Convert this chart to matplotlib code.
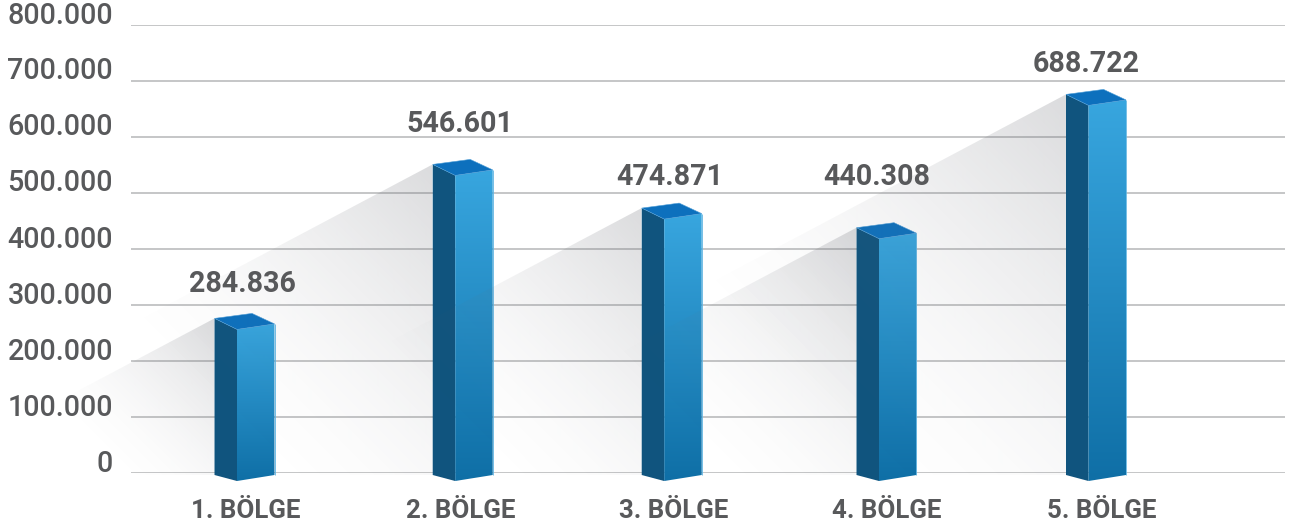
import numpy as np
import matplotlib
matplotlib.use("Agg")
import matplotlib.pyplot as plt
from matplotlib.patches import Polygon
from matplotlib.transforms import ScaledTranslation

regions = ["1. BÖLGE", "2. BÖLGE", "3. BÖLGE", "4. BÖLGE", "5. BÖLGE"]
values = [284836, 546601, 474871, 440308, 688722]
value_labels = ["284.836", "546.601", "474.871", "440.308", "688.722"]
# Bar heights as drawn in the picture, read against the gridlines
drawn_heights = [285000, 560000, 482000, 447000, 685000]
y_ticks = [0, 100000, 200000, 300000, 400000, 500000, 600000, 700000, 800000]
y_tick_labels = ["0", "100.000", "200.000", "300.000", "400.000", "500.000", "600.000", "700.000", "800.000"]

# Layout, in figure pixels
W, H = 1296, 527
Y0, Y800 = 473, 25
AX_L, AX_R = 131, 1285
bar_left = [214.5, 432.7, 641.7, 856.5, 1066]
label_x = [242, 460, 670, 877, 1086]
label_y = [284.5, 124.5, 177.5, 177.5, 64.5]
xlabel_x = [246, 461, 674, 887, 1102]
TEXT = "#58595b"
VP = 800000 / (Y0 - Y800)

def yv(py):
    return (Y0 - py) * VP

fig = plt.figure(figsize=(W / 100, H / 100), dpi=100, facecolor="white")
ax = fig.add_axes([AX_L / W, (H - Y0) / H, (AX_R - AX_L) / W, (Y0 - Y800) / H])
ax.set_facecolor("none")
for s in ax.spines.values():
    s.set_visible(False)

def paint(rgba, x0, x1, py0, py1, verts, z):
    """Draw an RGBA array in pixel box, clipped to a polygon."""
    im = ax.imshow(rgba, extent=(x0, x1, yv(py1), yv(py0)), origin="upper",
                   aspect="auto", interpolation="bilinear", zorder=z)
    clip = Polygon(verts, closed=True, transform=ax.transData, facecolor="none", edgecolor="none")
    im.set_clip_path(clip)
    im.set_clip_box(fig.bbox)

for i, (left, h) in enumerate(zip(bar_left, drawn_heights)):
    top = Y0 - h / VP
    front, right, back = left + 22.5, left + 60, left + 37.5
    z = 3 + i * 2

    # Shadow thrown to the lower left of the bar, above the previous bar
    cx, cy = left, top + 5
    length = 1.05 * (Y0 - top) + 15
    xs = np.arange(int(cx - 520), int(cx) + 1)
    ys = np.arange(int(cy), 476)
    gx, gy = np.meshgrid(xs, ys)
    d = (cx - gx) * 0.72 + (gy - cy) * 0.72
    alpha = 0.25 * np.clip(1 - d / length, 0, 1) ** 1.6
    rgba = np.zeros(alpha.shape + (4,))
    rgba[..., 0], rgba[..., 1], rgba[..., 2] = 110 / 255, 112 / 255, 120 / 255
    rgba[..., 3] = alpha
    end_x = cx - (475 - cy) / 0.53
    sh = [(cx, yv(cy)), (end_x, yv(475)), (cx, yv(475))]
    paint(rgba, xs[0], xs[-1], ys[0], ys[-1], sh, z - 1)

    # Left face
    ax.add_patch(Polygon([(left, yv(top + 5)), (front, yv(top + 16)), (front, yv(481)), (left, yv(475))],
                         closed=True, facecolor="#10547e", edgecolor="none", zorder=z, clip_on=False))
    # Front face with vertical gradient
    c0, c1 = np.array([0x38, 0xa6, 0xdf]) / 255, np.array([0x0f, 0x6f, 0xa6]) / 255
    n = 200
    t = np.linspace(0, 1, n)[:, None]
    col = (c0 * (1 - t) + c1 * t)[:, None, :]
    face = [(front, yv(top + 16)), (right, yv(top + 10.5)), (right, yv(475)), (front, yv(481))]
    paint(col, front, right, top + 10, 481, face, z)
    # Top face
    ax.add_patch(Polygon([(left, yv(top + 5)), (back, yv(top)), (right, yv(top + 10.5)), (front, yv(top + 16))],
                         closed=True, facecolor="#0d70bd", edgecolor="#4f9fd8", linewidth=0.4,
                         zorder=z + 0.5, clip_on=False))
    ax.plot([right, right], [yv(top + 10.5), yv(475)], color="#5fb4e2", lw=0.6, zorder=z + 0.5,
            solid_capstyle="butt", clip_on=False)

    ax.text(label_x[i], yv(label_y[i]), value_labels[i], ha="center", va="center",
            fontsize=20.6, fontweight="bold", family="Roboto", color=TEXT, zorder=30, clip_on=False)

ax.set_xlim(AX_L, AX_R)
ax.set_ylim(0, 800000)
ax.set_yticks(y_ticks)
ax.set_yticklabels(y_tick_labels, fontsize=20.6, family="Roboto", fontweight="medium", color=TEXT)
ax.set_xticks(xlabel_x)
ax.set_xticklabels(regions, fontsize=18.6, fontweight="bold", family="Roboto", color=TEXT)
ax.tick_params(axis="both", length=0)
ax.tick_params(axis="y", pad=13)
ax.tick_params(axis="x", pad=18.5)
ax.set_axisbelow(True)
ax.yaxis.grid(True, color="#b5b6b8", lw=1.1, zorder=0)
ax.xaxis.grid(False)
shift = ScaledTranslation(0, 12.5 / 100, fig.dpi_scale_trans)
for lab in ax.get_yticklabels():
    lab.set_transform(lab.get_transform() + shift)
    lab.set_zorder(30)

fig.savefig("out.png", dpi=100, facecolor="white")
